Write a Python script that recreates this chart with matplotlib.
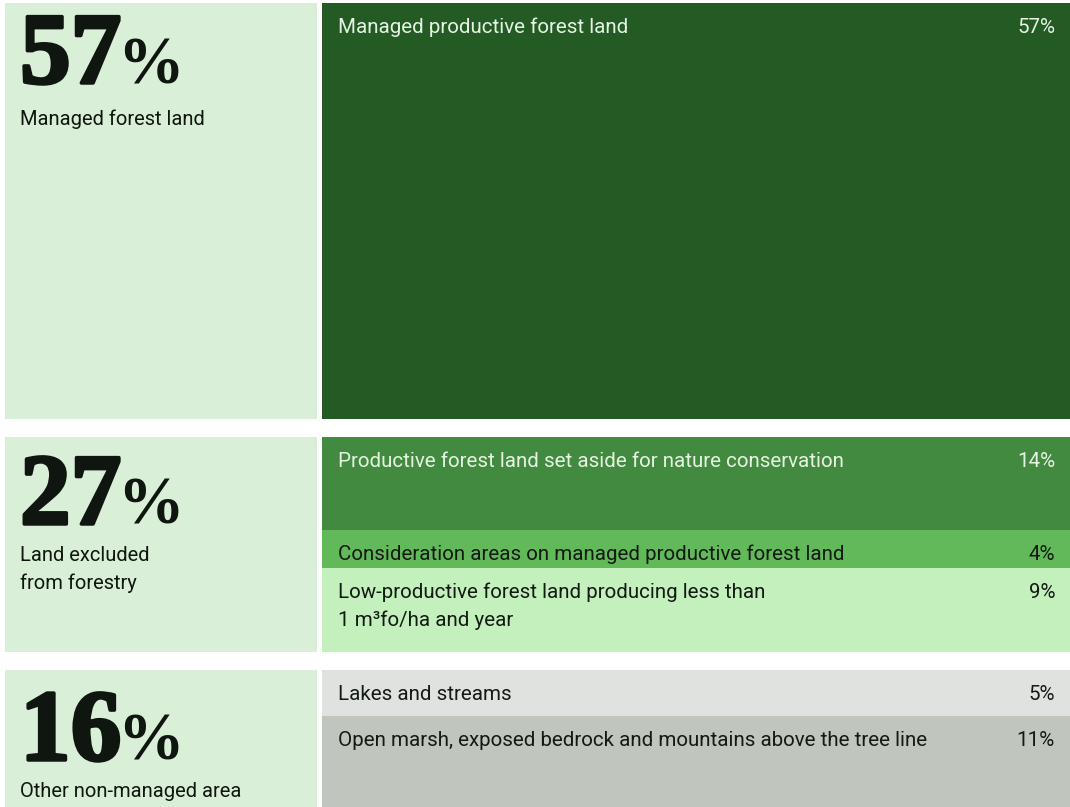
import matplotlib
matplotlib.use('Agg')
import matplotlib.pyplot as plt
import matplotlib.patheffects as pe

# data
group_labels = [['Managed forest land'], ['Land excluded', 'from forestry'], ['Other non-managed area']]
group_pct = [57, 27, 16]

categories = [['Managed productive forest land'],
              ['Productive forest land set aside for nature conservation'],
              ['Consideration areas on managed productive forest land'],
              ['Low-productive forest land producing less than', '1 m\u00b3fo/ha and year'],
              ['Lakes and streams'],
              ['Open marsh, exposed bedrock and mountains above the tree line']]
cat_pct = [57, 14, 4, 9, 5, 11]
cat_group = [0, 1, 1, 1, 2, 2]

# layout (pixels)
W, H = 1070, 807
row_px = [416, 93, 38, 84, 46, 91]
group_gap = 18
left_x0, left_x1 = 5, 317
right_x0, right_x1 = 322, 1070
top0 = 3
num_off = [80, 87, 90]
lab_off = [42, 37, 37]
line_h = 28

cat_colors = ['#245b25', '#428a3f', '#62b959', '#c3f0bd', '#e0e2df', '#c0c5bd']
cat_text = ['#e6f3e3', '#e6f3e3', '#121a12', '#121a12', '#121a12', '#121a12']
left_bg = '#d9efd7'
dark = '#0f150f'

body_font = ['Liberation Sans Narrow', 'Roboto', 'DejaVu Sans']
num_font = ['Liberation Serif', 'DejaVu Serif']

fig = plt.figure(figsize=(W / 100, H / 100), dpi=100)
ax = fig.add_axes([0, 0, 1, 1])
ax.set_xlim(0, W)
ax.set_ylim(H, 0)
ax.axis('off')

# row tops
tops = []
y = top0
for i, h in enumerate(row_px):
    if i > 0 and cat_group[i] != cat_group[i - 1]:
        y += group_gap
    tops.append(y)
    y += h

# right side bars
ax.bar([right_x0] * len(cat_pct), row_px, bottom=tops, width=right_x1 - right_x0,
       align='edge', color=cat_colors, linewidth=0)

for i, (lines, pct) in enumerate(zip(categories, cat_pct)):
    base = tops[i] + 30
    for k, ln in enumerate(lines):
        ax.text(right_x0 + 16, base + k * line_h, ln, family=body_font, fontsize=14.8,
                color=cat_text[i], va='baseline', ha='left')
    ax.text(1055, base, f'{pct}%', family=body_font, fontsize=14.8, color=cat_text[i],
            va='baseline', ha='right')

# left side group panels
renderer = fig.canvas.get_renderer()
heavy = [pe.withStroke(linewidth=2.5, foreground=dark)]
for g, (lines, pct) in enumerate(zip(group_labels, group_pct)):
    idx = [i for i, c in enumerate(cat_group) if c == g]
    gtop = tops[idx[0]]
    gbot = tops[idx[-1]] + row_px[idx[-1]]
    ax.bar(left_x0, gbot - gtop, bottom=gtop, width=left_x1 - left_x0, align='edge',
           color=left_bg, linewidth=0)
    nb = gtop + num_off[g]
    t = ax.text(20, nb, str(pct), family=num_font, fontweight='bold', fontsize=73,
                color=dark, va='baseline', ha='left', path_effects=heavy)
    bb = t.get_window_extent(renderer)
    ax.text(bb.x1 - 4, nb, '%', family=num_font, fontweight='bold', fontsize=48,
            color=dark, va='baseline', ha='left')
    for k, ln in enumerate(lines):
        ax.text(20, nb + lab_off[g] + k * line_h, ln, family=body_font, fontsize=14.5,
                color=dark, va='baseline', ha='left')

fig.savefig('out.png', dpi=100)
